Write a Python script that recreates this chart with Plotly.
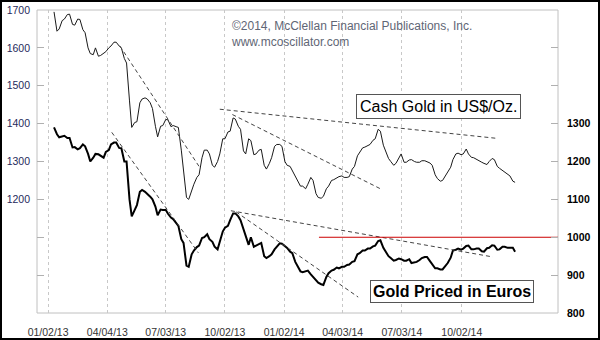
import plotly.graph_objects as go
import pandas as pd

# ---- data: twice-weekly readings (Thursday / Monday) from the chart ----
thu_dates = pd.date_range("2013-01-03", periods=90, freq="7D")
mon_dates = pd.date_range("2013-01-07", periods=89, freq="7D")

usd_thu = [1695,1650,1676,1689,1660,1675,1640,1585,1600,1580,
           1590,1605,1615,1600,1560,1390,1405,1465,1465,1440,
           1365,1395,1410,1395,1390,1270,1200,1240,1265,1330,
           1320,1285,1320,1360,1380,1412,1385,1320,1355,1320,
           1332,1280,1310,1345,1340,1290,1275,1250,1235,1240,
           1250,1205,1208,1235,1252,1260,1258,1260,1287,1325,
           1338,1345,1360,1380,1330,1300,1295,1320,1298,1305,
           1298,1302,1300,1290,1255,1250,1270,1305,1322,1320,
           1320,1310,1303,1295,1300,1305,1282,1274,1262,1245]
usd_mon = [1644,1672,1688,1662,1676,1648,1600,1582,1578,1585,
           1600,1615,1605,1572,1460,1403,1455,1468,1455,1393,
           1393,1411,1392,1392,1330,1205,1225,1258,1310,1330,
           1290,1300,1360,1378,1415,1393,1328,1360,1318,1330,
           1290,1295,1340,1345,1300,1287,1262,1235,1228,1258,
           1215,1203,1228,1250,1258,1262,1258,1280,1315,1336,
           1343,1356,1385,1343,1308,1290,1312,1298,1304,1300,
           1298,1302,1296,1265,1248,1263,1285,1320,1318,1333,
           1311,1305,1298,1292,1308,1287,1276,1266,1248]

eur_thu = [1290,1264,1268,1262,1238,1235,1240,1200,1220,1215,
           1225,1245,1250,1235,1200,1055,1085,1125,1115,1100,
           1058,1072,1062,1048,1030,985,922,965,978,1000,
           995,975,990,1025,1045,1063,1045,1000,1000,978,
           985,945,955,975,983,972,958,925,908,912,
           895,880,874,905,914,918,922,928,937,958,
           965,970,978,992,962,945,940,942,938,932,
           935,945,948,930,918,915,932,965,970,970,
           978,968,970,962,972,978,968,975,972,962]
eur_mon = [1272,1266,1262,1237,1232,1245,1220,1210,1219,1210,
           1230,1250,1236,1200,1100,1072,1120,1120,1107,1081,
           1073,1072,1052,1036,995,925,955,974,998,1008,
           988,968,1015,1030,1063,1055,1020,980,975,983,
           950,950,968,984,977,962,935,910,910,902,
           885,876,895,912,920,922,927,935,955,965,
           970,976,990,972,950,938,944,938,942,933,
           940,948,937,918,915,925,946,967,967,977,
           968,970,963,971,979,967,975,972,972]

usd_trend = [("2013-04-02", 1605, "2013-07-19", 1284),
             ("2013-08-15", 1438, "2014-08-25", 1361),
             ("2013-09-01", 1424, "2014-03-20", 1228)]
eur_trend = [("2013-03-22", 1277, "2013-07-17", 959),
             ("2013-08-30", 1070, "2014-08-19", 948),
             ("2013-09-06", 1067, "2014-02-18", 842)]

eur_level = 1000
eur_level_start = "2013-12-27"

x_range = ["2012-12-11", "2014-11-15"]
tick_dates = ["2012-12-26", "2013-03-16", "2013-06-03", "2013-08-22",
              "2013-11-10", "2014-01-28", "2014-04-18", "2014-07-08"]
tick_labels = ["01/02/13", "04/04/13", "07/03/13", "10/02/13",
               "01/02/14", "04/03/14", "07/03/14", "10/02/14"]

left_ticks = [1000, 1100, 1200, 1300, 1400, 1500, 1600, 1700]
left_labels = ["", "", "1200", "1300", "1400", "1500", "1600", "1700"]
right_ticks = [800, 900, 1000, 1100, 1200, 1300, 1400, 1500]
right_labels = ["800", "900", "1000", "1100", "1200", "1300", "", ""]

# combine the two reading days into one time-ordered series each
usd_s = pd.concat([pd.Series(usd_thu, index=thu_dates),
                   pd.Series(usd_mon, index=mon_dates)]).sort_index()
eur_s = pd.concat([pd.Series(eur_thu, index=thu_dates),
                   pd.Series(eur_mon, index=mon_dates)]).sort_index()

# ---- figure ----
FONT = "Arial, Liberation Sans, sans-serif"
fig = go.Figure()

fig.add_trace(go.Scatter(x=usd_s.index, y=usd_s.values, mode="lines",
                         line=dict(color="#1a1a1a", width=1), yaxis="y"))
fig.add_trace(go.Scatter(x=eur_s.index, y=eur_s.values, mode="lines",
                         line=dict(color="#000000", width=2), yaxis="y2"))

for x0, y0, x1, y1 in usd_trend:
    fig.add_trace(go.Scatter(x=[x0, x1], y=[y0, y1], mode="lines", yaxis="y",
                             line=dict(color="#444444", width=1, dash="4px,3px")))
for x0, y0, x1, y1 in eur_trend:
    fig.add_trace(go.Scatter(x=[x0, x1], y=[y0, y1], mode="lines", yaxis="y2",
                             line=dict(color="#444444", width=1, dash="4px,3px")))

fig.add_trace(go.Scatter(x=[eur_level_start, x_range[1]], y=[eur_level, eur_level],
                         mode="lines", yaxis="y2", line=dict(color="#cc0000", width=1)))

L, R, T, B = 37, 42, 10, 27
W, H = 600, 340
pw, ph = W - L - R, H - T - B

fig.update_layout(
    width=W, height=H, showlegend=False,
    margin=dict(l=L, r=R, t=T, b=B, pad=0, autoexpand=False),
    paper_bgcolor="white", plot_bgcolor="white",
    font=dict(family=FONT),
    xaxis=dict(type="date", range=x_range, tickvals=tick_dates, ticktext=tick_labels,
               showgrid=True, gridcolor="#c8c8c8", griddash="dot", gridwidth=1,
               ticks="", showline=False, zeroline=False, ticklabelstandoff=11,
               automargin=False,
               tickfont=dict(size=10.5, color="#333333", family=FONT)),
    yaxis=dict(range=[900, 1700], tickvals=left_ticks, ticktext=left_labels,
               showgrid=False, zeroline=False, ticks="inside", ticklen=7,
               tickcolor="#b0b0b0", ticklabelstandoff=6, automargin=False,
               tickfont=dict(size=10.5, color="#1f2a5c", family=FONT)),
    yaxis2=dict(range=[800, 1600], tickvals=right_ticks, ticktext=right_labels,
                overlaying="y", side="right", showgrid=False, zeroline=False,
                ticks="inside", ticklen=7, tickcolor="#b0b0b0", ticklabelstandoff=8,
                automargin=False,
                tickfont=dict(size=10.5, color="#000000", family=FONT, weight="bold")),
)

# plot border
fig.add_shape(type="rect", xref="paper", yref="paper", x0=0, y0=0, x1=1, y1=1,
              line=dict(color="#c0c0c0", width=1), layer="below")
# outer frame
fig.add_shape(type="rect", xref="paper", yref="paper",
              x0=-L / pw, x1=1 + R / pw, y0=-B / ph, y1=1 + T / ph,
              line=dict(color="#000000", width=4))

fig.add_annotation(xref="paper", yref="paper", x=(229 - L) / pw, y=(313 - 17) / ph,
                   xanchor="left", yanchor="top", align="left", showarrow=False,
                   text="©2014, McClellan Financial Publications, Inc.<br>www.mcoscillator.com",
                   font=dict(size=12, color="#5f6675", family=FONT))
fig.add_annotation(xref="paper", yref="paper", x=(438.5 - L) / pw, y=(313 - 106.5) / ph,
                   xanchor="center", yanchor="middle", showarrow=False,
                   text="Cash Gold in US$/Oz.", bgcolor="white",
                   bordercolor="#555555", borderwidth=1, borderpad=3,
                   font=dict(size=16, color="#000000", family=FONT))
fig.add_annotation(xref="paper", yref="paper", x=(452 - L) / pw, y=(313 - 291.5) / ph,
                   xanchor="center", yanchor="middle", showarrow=False,
                   text="<b>Gold Priced in Euros</b>", bgcolor="white",
                   bordercolor="#555555", borderwidth=1, borderpad=2,
                   font=dict(size=16, color="#000000", family=FONT))

fig.write_html("out.html")
